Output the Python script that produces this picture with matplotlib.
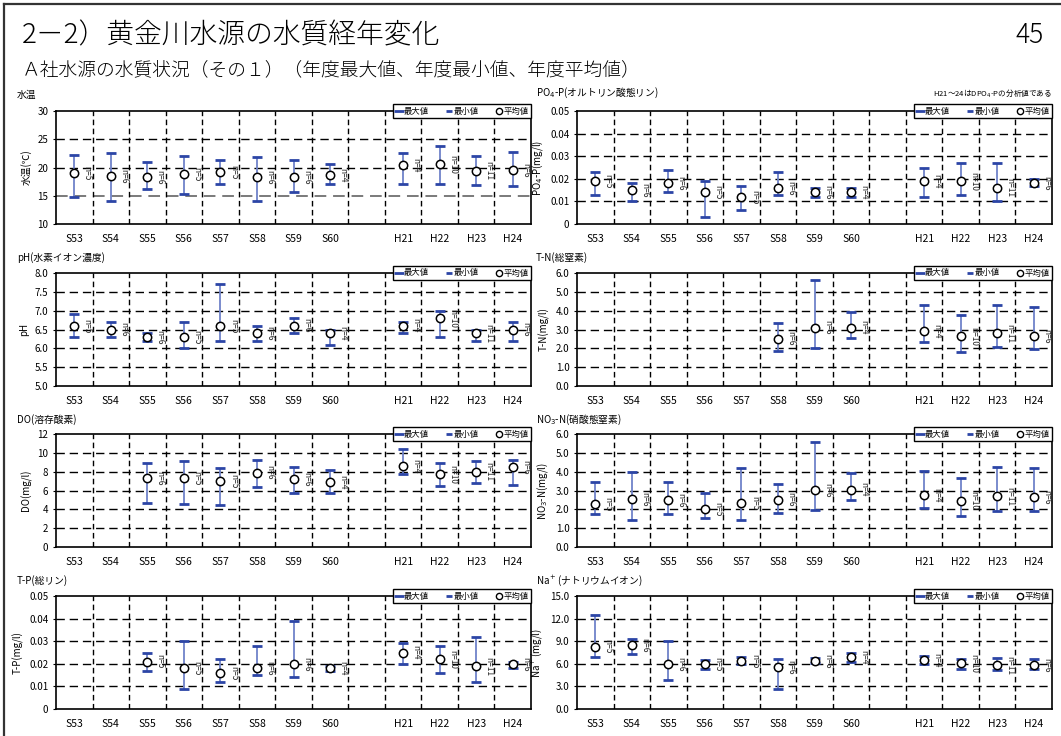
import numpy as np
import matplotlib; matplotlib.use('Agg'); import matplotlib.pyplot as plt
from matplotlib.lines import Line2D

plt.rcParams['font.family'] = ['Noto Sans CJK JP', 'DejaVu Sans']
plt.rcParams['axes.unicode_minus'] = False

nan = np.nan
years = ['S53','S54','S55','S56','S57','S58','S59','S60','H21','H22','H23','H24']
xpos = [0,1,2,3,4,5,6,7,9,10,11,12]   # slot 8 stays empty between S60 and H21
n_std = [5,6,6,5,5,6,6,4,4,10,11,6]
n_tp  = [5,6,5,5,5,6,6,4,4,10,11,6]

# water temperature
wt_max  = [22.2,22.6,21.0,22.0,21.3,21.9,21.3,20.7,22.5,23.8,22.0,22.7]
wt_min  = [14.8,14.0,16.2,15.3,17.0,14.1,15.6,17.0,17.1,17.0,16.9,16.7]
wt_mean = [19.0,18.5,18.3,18.8,19.2,18.3,18.3,18.6,20.4,20.6,19.4,19.5]
# PO4-P
po_max  = [0.023,0.018,0.024,0.019,0.017,0.023,0.016,0.016,0.025,0.027,0.027,0.020]
po_min  = [0.013,0.010,0.014,0.003,0.006,0.013,0.012,0.012,0.012,0.013,0.010,0.017]
po_mean = [0.019,0.015,0.018,0.014,0.012,0.016,0.014,0.014,0.019,0.019,0.016,0.018]
# pH
ph_max  = [6.9,6.7,6.4,6.7,7.7,6.6,6.8,6.5,6.7,7.0,6.5,6.7]
ph_min  = [6.3,6.3,6.2,6.0,6.2,6.2,6.4,6.1,6.4,6.3,6.2,6.2]
ph_mean = [6.6,6.5,6.3,6.3,6.6,6.4,6.6,6.4,6.6,6.8,6.4,6.5]
# T-N
tn_max  = [nan,nan,nan,nan,nan,3.35,5.63,3.92,4.32,3.77,4.32,4.18]
tn_min  = [nan,nan,nan,nan,nan,1.87,2.01,2.54,2.31,1.82,2.05,1.94]
tn_mean = [nan,nan,nan,nan,nan,2.52,3.10,3.10,2.93,2.63,2.79,2.66]
# DO
do_max  = [nan,nan,8.9,9.1,8.4,9.2,8.5,8.2,10.4,8.9,9.1,9.2]
do_min  = [nan,nan,4.7,4.6,4.5,6.4,5.7,5.7,7.8,6.5,6.8,6.6]
do_mean = [nan,nan,7.3,7.3,7.0,7.9,7.2,6.9,8.6,7.7,8.0,8.5]
# NO3-N
no_max  = [3.47,3.99,3.47,2.85,4.18,3.35,5.60,3.91,4.02,3.67,4.25,4.22]
no_min  = [1.73,1.44,1.74,1.55,1.46,1.78,1.96,2.49,2.08,1.64,1.92,1.89]
no_mean = [2.28,2.54,2.49,2.03,2.31,2.51,3.01,3.04,2.74,2.46,2.70,2.65]
# T-P
tp_max  = [nan,nan,0.025,0.030,0.022,0.028,0.039,0.019,0.029,0.028,0.032,0.021]
tp_min  = [nan,nan,0.017,0.009,0.012,0.015,0.014,0.017,0.020,0.016,0.012,0.018]
tp_mean = [nan,nan,0.021,0.018,0.016,0.018,0.020,0.018,0.025,0.022,0.019,0.020]
# Na+
na_max  = [12.53,9.31,9.04,6.57,6.93,6.66,6.71,7.50,6.97,6.66,6.79,6.66]
na_min  = [6.88,7.32,3.88,5.25,6.00,2.60,6.04,6.26,5.91,5.25,5.21,5.29]
na_mean = [8.29,8.51,5.96,5.96,6.35,5.56,6.40,6.84,6.48,6.09,5.78,5.78]

CAP = '#2c45a6'; BAR = '#6f82c9'
W, H = 1061, 736
fig = plt.figure(figsize=(W/100, H/100), dpi=100)

def px(x, y): return x/W, 1-y/H

# page frame (top and left edges only)
fig.add_artist(Line2D([4/W, 1], [1-4/H, 1-4/H], color='#333333', lw=1.6))
fig.add_artist(Line2D([4/W, 4/W], [0, 1-4/H], color='#333333', lw=1.6))

fig.text(*px(22, 35), '2－2）黄金川水源の水質経年変化', fontsize=20, va='center', fontweight='light')
fig.text(*px(1044, 35), '45', fontsize=19, va='center', ha='right', fontweight='light')
fig.text(*px(22, 70), 'Ａ社水源の水質状況（その１）（年度最大値、年度最小値、年度平均値）', fontsize=13.5, va='center', fontweight='light')
fig.text(*px(1052, 93), 'H21～24はDPO$_4$-Pの分析値である', fontsize=5.5, va='center', ha='right')

def panel(rect, title, tx, ty, ylabel, ylim, step, fmt, vmax, vmin, vmean, ns, grey15=False):
    ax = fig.add_axes(rect)
    fig.text(*px(tx, ty), title, fontsize=7, va='center')
    ax.set_xlim(-0.5, 12.5); ax.set_ylim(*ylim)
    ticks = np.arange(ylim[0], ylim[1]+step/2, step)
    ax.set_yticks(ticks); ax.set_yticklabels([fmt(t) for t in ticks], fontsize=7)
    ax.set_xticks(range(13)); ax.set_xticklabels(years[:8]+['']+years[8:], fontsize=7.5)
    ax.tick_params(axis='x', length=0, pad=7)
    ax.tick_params(axis='y', length=2.5, width=0.8, pad=3)
    for t in ticks[1:-1]:
        c = '#7a7a7a' if (grey15 and t == 15) else 'k'
        ax.axhline(t, color=c, lw=1.0 if c == 'k' else 1.4, ls=(0, (6, 3.5)), zorder=1)
    for k in range(12):
        ax.axvline(k+0.5, color='k', lw=1.0, ls=(0, (4, 2.5)), zorder=1)
    for s in ax.spines.values(): s.set_linewidth(1.2)
    ax.set_ylabel(ylabel, fontsize=7, labelpad=4)
    for x, hi, lo, m, n in zip(xpos, vmax, vmin, vmean, ns):
        if np.isnan(m): continue
        ax.vlines(x, lo, hi, color=BAR, lw=1.3, zorder=3)
        ax.plot([x, x], [hi, lo], ls='none', marker='_', ms=7, mew=2, color=CAP, zorder=4)
        ax.plot(x, m, 'o', mfc='white', mec='k', ms=6, mew=1.1, zorder=5)
        ax.annotate(f'n={n}', (x, m), xytext=(6, 0), textcoords='offset points', rotation=-90,
                    va='center', ha='left', fontsize=6, color='#222222')
    hnd = [Line2D([], [], ls='none', marker='_', ms=7, mew=2, color=CAP),
           Line2D([], [], ls='none', marker='_', ms=4, mew=2, color=CAP),
           Line2D([], [], ls='none', marker='o', mfc='white', mec='k', ms=4.5, mew=1)]
    lg = ax.legend(hnd, ['最大値', '最小値', '平均値'], loc='center right', bbox_to_anchor=(1.0, 1.0),
                   ncol=3, fontsize=6, fancybox=False, edgecolor='k', framealpha=1, handlelength=0.8,
                   handletextpad=0.2, columnspacing=2.0, borderpad=0.25, borderaxespad=0)
    lg.get_frame().set_linewidth(1.0); lg.set_zorder(10)
    return ax

LX, RX, AW, AH = 56/W, 577/W, 475/W, 113/H
rows = [224, 386, 547, 709]
f_int = lambda v: f'{v:.0f}'
f_1 = lambda v: f'{v:.1f}'
f_2 = lambda v: '0' if v == 0 else f'{v:.2f}'

panel([LX, 1-rows[0]/H, AW, AH], '水温', 17, 95, '水温(℃)', (10, 30), 5, f_int, wt_max, wt_min, wt_mean, n_std, grey15=True)
panel([RX, 1-rows[0]/H, AW, AH], 'PO$_4$-P(オルトリン酸態リン)', 536, 93, 'PO$_4$-P(mg/l)', (0, 0.05), 0.01, f_2, po_max, po_min, po_mean, n_std)
panel([LX, 1-rows[1]/H, AW, AH], 'pH(水素イオン濃度)', 17, 258, 'pH', (5.0, 8.0), 0.5, f_1, ph_max, ph_min, ph_mean, n_std)
panel([RX, 1-rows[1]/H, AW, AH], 'T-N(総窒素)', 536, 258, 'T-N(mg/l)', (0, 6.0), 1.0, f_1, tn_max, tn_min, tn_mean, n_std)
panel([LX, 1-rows[2]/H, AW, AH], 'DO(溶存酸素)', 17, 420, 'DO(mg/l)', (0, 12), 2, f_int, do_max, do_min, do_mean, n_std)
panel([RX, 1-rows[2]/H, AW, AH], 'NO$_3$-N(硝酸態窒素)', 536, 420, 'NO$_3$-N(mg/l)', (0, 6.0), 1.0, f_1, no_max, no_min, no_mean, n_std)
panel([LX, 1-rows[3]/H, AW, AH], 'T-P(総リン)', 17, 581, 'T-P(mg/l)', (0, 0.05), 0.01, f_2, tp_max, tp_min, tp_mean, n_tp)
panel([RX, 1-rows[3]/H, AW, AH], 'Na$^+$(ナトリウムイオン)', 536, 581, 'Na$^+$(mg/l)', (0, 15.0), 3.0, f_1, na_max, na_min, na_mean, n_std)

fig.savefig('out.png', dpi=100)
